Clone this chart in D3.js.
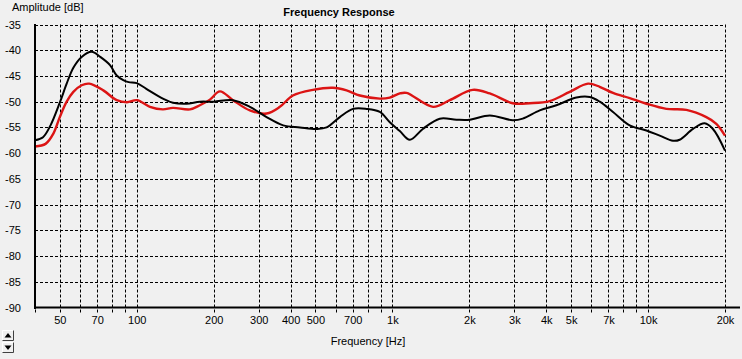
<!DOCTYPE html>
<html>
<head>
<meta charset="utf-8">
<script src="https://cdn.jsdelivr.net/npm/d3@7"></script>
<style>
  html, body { margin: 0; padding: 0; background: #f0f0f0; }
  svg { display: block; }
  text { font-family: "Liberation Sans", Arial, sans-serif; fill: #000; }
</style>
</head>
<body>
<div id="chart"></div>
<script>
// ---- data ----
const gridFreqs = [40,50,60,70,80,90,100,200,300,400,500,600,700,800,900,1000,2000,3000,4000,5000,6000,7000,8000,9000,10000,20000];
const labelFreqs = [50,70,100,200,300,400,500,700,1000,2000,3000,4000,5000,7000,10000,20000];
const labelTexts = ["50","70","100","200","300","400","500","700","1k","2k","3k","4k","5k","7k","10k","20k"];
const dbTicks = [-35,-40,-45,-50,-55,-60,-65,-70,-75,-80,-85,-90];

const blackFreq = [40,43,46,50,53.2,56.5,60.9,66.6,72,78.6,83.5,88.6,93,100,109,126.6,138.5,156.7,176.6,200,237.8,277,322,374,435,505,553,623,702,792,893,977,1069,1170,1315,1532,1781,2008,2404,2957,3235,3770,4381,5247,5913,6471,7293,8476,9852,11107,12520,13297,14990,16645,17941,20000];
const blackDb   = [-57.5,-56.9,-54.6,-50.2,-46.5,-43.4,-41.3,-40.3,-41.3,-42.9,-44.9,-45.8,-46.2,-46.4,-47.5,-49.4,-50.2,-50.4,-50.0,-50.0,-49.7,-51,-53,-54.6,-55,-55.3,-55,-53,-51.4,-51.4,-52,-54,-55.7,-57.4,-55.3,-53.3,-53.5,-53.5,-52.7,-53.6,-53.3,-51.7,-50.7,-49.2,-49.1,-50,-52,-54.6,-55.6,-56.6,-57.6,-57.4,-55.3,-54.2,-55.3,-59.5];

const redFreq = [40,44,47.2,50,53.2,56.5,60.9,65.2,74,83.5,91.6,100.2,112.6,126.6,138.5,161.4,176.6,193.3,211.5,237.8,277,322,363,408,489,585,662,746,893,977,1069,1136,1442,1677,2062,2404,2957,3446,4124,4939,5824,6471,7293,8476,9852,11796,14124,16903,18497,20000];
const redDb   = [-58.7,-58.2,-56.2,-53,-50,-48.1,-46.8,-46.5,-47.8,-49.7,-50.1,-49.7,-51,-51.5,-51.2,-51.5,-50.7,-49.6,-48,-49.7,-51.7,-52.3,-51,-48.8,-47.7,-47.3,-47.8,-48.8,-49.4,-49.2,-48.4,-48.3,-51,-49.7,-47.7,-48.4,-50.3,-50.3,-49.9,-48.1,-46.5,-47.1,-48.3,-49.3,-50.4,-51.4,-51.6,-53,-54.3,-56.6];

// ---- layout ----
const W = 742, H = 359;
const svg = d3.select("#chart").append("svg").attr("width", W).attr("height", H);
svg.append("rect").attr("width", W).attr("height", H).attr("fill", "#f0f0f0");

const x = d3.scaleLog().domain([40, 20000]).range([35, 725]);
const y = d3.scaleLinear().domain([-90, -35]).range([307.5, 24.5]);
const crisp = v => Math.round(v) + 0.5;

// gridlines horizontal
svg.append("g").selectAll("line").data(dbTicks.filter(d => d > -90)).join("line")
  .attr("x1", x(40)).attr("x2", x(20000))
  .attr("y1", d => crisp(y(d))).attr("y2", d => crisp(y(d)))
  .attr("stroke", "#000").attr("stroke-width", 1).attr("stroke-dasharray", "3,2");

// gridlines vertical (extend below axis as ticks)
svg.append("g").selectAll("line").data(gridFreqs).join("line")
  .attr("x1", d => crisp(x(d))).attr("x2", d => crisp(x(d)))
  .attr("y1", y(-35)).attr("y2", y(-90) + 6)
  .attr("stroke", "#000").attr("stroke-width", 1).attr("stroke-dasharray", "3,2");

// curves
const line = d3.line().x(d => x(d[0])).y(d => y(d[1])).curve(d3.curveCatmullRom.alpha(0.5));
svg.append("path").datum(redFreq.map((f, i) => [f, redDb[i]]))
  .attr("d", line).attr("fill", "none").attr("stroke", "#dc1414").attr("stroke-width", 2.4)
  .attr("stroke-linejoin", "round");
svg.append("path").datum(blackFreq.map((f, i) => [f, blackDb[i]]))
  .attr("d", line).attr("fill", "none").attr("stroke", "#000").attr("stroke-width", 2)
  .attr("stroke-linejoin", "round");

// axes lines
svg.append("line").attr("x1", 35).attr("x2", 35).attr("y1", 24).attr("y2", 309)
  .attr("stroke", "#000").attr("stroke-width", 2);
svg.append("line").attr("x1", 34).attr("x2", 740).attr("y1", 307.5).attr("y2", 307.5)
  .attr("stroke", "#000").attr("stroke-width", 2);

// x tick labels via axis
const xAxis = d3.axisBottom(x).tickValues(labelFreqs).tickSize(0).tickPadding(0)
  .tickFormat((d, i) => labelTexts[i]);
const gx = svg.append("g").attr("transform", "translate(0,316)").call(xAxis);
gx.select(".domain").remove();
gx.selectAll("text").attr("font-size", 11).attr("font-family", "Liberation Sans, Arial, sans-serif").attr("fill", "#000");

// y tick labels via axis
const yAxis = d3.axisLeft(y).tickValues(dbTicks).tickSize(0).tickPadding(0).tickFormat(d => d);
const gy = svg.append("g").attr("transform", "translate(21,0)").call(yAxis);
gy.select(".domain").remove();
gy.selectAll("text").attr("font-size", 11).attr("font-family", "Liberation Sans, Arial, sans-serif").attr("fill", "#000");

// titles
svg.append("text").attr("x", 12).attr("y", 11).attr("font-size", 11).text("Amplitude [dB]");
svg.append("text").attr("x", 339).attr("y", 16).attr("text-anchor", "middle")
  .attr("font-size", 11).attr("font-weight", "bold").text("Frequency Response");
svg.append("text").attr("x", 368).attr("y", 345).attr("text-anchor", "middle")
  .attr("font-size", 11).text("Frequency [Hz]");

// scroll buttons
function button(y0, up) {
  const g = svg.append("g");
  g.append("rect").attr("x", 2).attr("y", y0).attr("width", 12).attr("height", 11).attr("fill", "#f0f0f0");
  g.append("path").attr("d", `M2.5,${y0+10.5}V${y0+0.5}H13.5`).attr("stroke", "#fff").attr("fill", "none");
  g.append("path").attr("d", `M2.5,${y0+10.5}H13.5V${y0+0.5}`).attr("stroke", "#404040").attr("fill", "none");
  const cx = 8, cy = y0 + 5.5;
  g.append("path").attr("d", up
      ? `M${cx-3.5},${cy+2}L${cx+3.5},${cy+2}L${cx},${cy-2.5}Z`
      : `M${cx-3.5},${cy-2}L${cx+3.5},${cy-2}L${cx},${cy+2.5}Z`)
    .attr("fill", "#000");
}
button(330, true);
button(342, false);
</script>
</body>
</html>
